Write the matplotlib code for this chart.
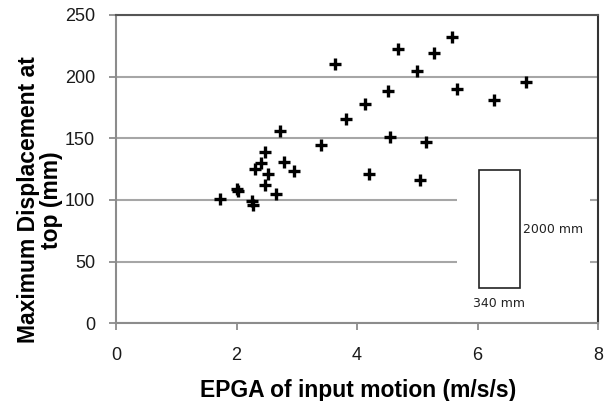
import matplotlib
matplotlib.use("Agg")
import matplotlib.pyplot as plt
from matplotlib.patches import Rectangle

plt.rcParams['font.family'] = ['Liberation Sans', 'DejaVu Sans']

epga = [1.72, 2.00, 2.02, 2.25, 2.28, 2.30, 2.40, 2.47, 2.48, 2.52, 2.66, 2.73, 2.79, 2.96,
        3.41, 3.63, 3.82, 4.14, 4.20, 4.51, 4.54, 4.68, 4.99, 5.04, 5.15, 5.28, 5.58, 5.66,
        6.27, 6.80]
disp = [100.5, 109, 107, 99.5, 96, 125, 129.7, 138.6, 112, 120.8, 105, 156, 131, 123.5,
        144.6, 210.4, 166, 177.8, 121.3, 188.6, 150.8, 222.4, 204.8, 116.2, 147.2, 219, 232.3, 189.7,
        181, 195.9]

xticks = [0, 2, 4, 6, 8]
yticks = [0, 50, 100, 150, 200, 250]

fig = plt.figure(figsize=(6.06, 4.01), dpi=100)
ax = fig.add_axes([116/606, 1-323.4/401, 482/606, 308.5/401])

ax.set_xlim(0, 8)
ax.set_ylim(0, 250)
ax.set_xticks(xticks)
ax.set_yticks(yticks)
ax.grid(axis='y', color='#a6a6a6', linewidth=1.5, zorder=0)
ax.set_axisbelow(True)

# white area hiding gridlines behind the inset sketch
ax.add_patch(Rectangle((0.707, 0.004), 0.276, 0.56, transform=ax.transAxes,
                       facecolor='white', edgecolor='none', zorder=1))

ax.plot(epga, disp, linestyle='none', marker='+', markersize=9, markeredgewidth=2.4,
        color='black', zorder=3)

# inset sketch of the structure
ax.add_patch(Rectangle((0.753, 0.115), 0.085, 0.382, transform=ax.transAxes,
                       facecolor='white', edgecolor='#222222', linewidth=1.2, zorder=2))
ax.text(0.845, 0.305, '2000 mm', transform=ax.transAxes, fontsize=9, family='DejaVu Sans',
        color='#222222', ha='left', va='center', zorder=4)
ax.text(0.795, 0.066, '340 mm', transform=ax.transAxes, fontsize=9, family='DejaVu Sans',
        color='#222222', ha='center', va='center', zorder=4)

for s in ['left', 'bottom']:
    ax.spines[s].set_color('#8c8c8c')
    ax.spines[s].set_linewidth(1.5)
ax.spines['top'].set_color('#555555')
ax.spines['top'].set_linewidth(1.5)
ax.spines['right'].set_color('#333333')
ax.spines['right'].set_linewidth(1.5)

ax.tick_params(axis='both', direction='out', length=5, width=1.3, color='#8c8c8c',
               labelsize=13, labelcolor='#1a1a1a')
ax.tick_params(axis='x', pad=12)
ax.tick_params(axis='y', pad=10)

fig.text(358/606, 1-390/401, 'EPGA of input motion (m/s/s)', fontsize=16.5,
         fontweight='bold', ha='center', va='center')
fig.text(40/606, 1-200/401, 'Maximum Displacement at\ntop (mm)', fontsize=16.5,
         fontweight='bold', ha='center', va='center', rotation=90,
         multialignment='center', linespacing=1.0)

fig.savefig('out.png', dpi=100)
